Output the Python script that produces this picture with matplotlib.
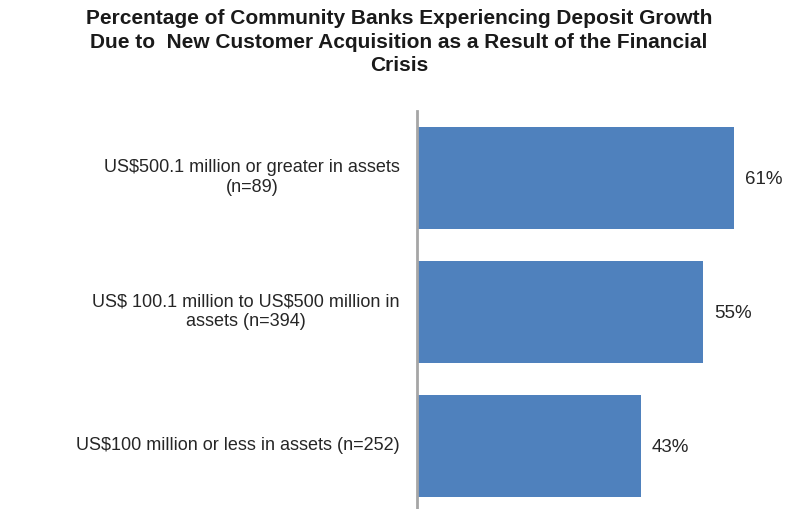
import matplotlib
matplotlib.use("Agg")
import matplotlib.pyplot as plt

plt.rcParams['font.family'] = ['Liberation Sans', 'DejaVu Sans']

# bank size groups, top to bottom
categories = [
    "US\\$500.1 million or greater in assets\n(n=89)",
    "US\\$ 100.1 million to US\\$500 million in\nassets (n=394)",
    "US\\$100 million or less in assets (n=252)",
]
pct = [61, 55, 43]

title = ("Percentage of Community Banks Experiencing Deposit Growth\n"
         "Due to  New Customer Acquisition as a Result of the Financial\n"
         "Crisis")

W, H = 793, 510
fig = plt.figure(figsize=(W / 100, H / 100), dpi=100)

# axes: left edge is the vertical axis line
ax = fig.add_axes([417 / W, 0, 364 / W, 398 / H])
ypos = list(range(len(categories)))
ax.barh(ypos, pct, height=0.755, color="#4F81BD", zorder=2)
ax.set_xlim(0, 70)
ax.set_ylim(2.47, -0.5)

for s in ("top", "right", "bottom"):
    ax.spines[s].set_visible(False)
ax.spines["left"].set_color("#A6A6A6")
ax.spines["left"].set_linewidth(2)
ax.set_xticks([])
ax.set_yticks([])

# value labels just past the bar ends
for y, v in zip(ypos, pct):
    ax.text(v + 2.1, y, f"{v}%", va="center", ha="left",
            fontsize=13.5, color="#262626")

# category labels, centred lines, right edge just left of the axis
for y, lab in zip(ypos, categories):
    ax.text(-3.3, y - 0.01, lab, va="center", ha="right", multialignment="center",
            fontsize=13, color="#262626", linespacing=1.25,
            transform=ax.transData, clip_on=False)

fig.text(0.503, 0.982, title, ha="center", va="top", fontsize=15,
         fontweight="bold", color="#1a1a1a", linespacing=1.3)

fig.savefig("out.png", dpi=100)
